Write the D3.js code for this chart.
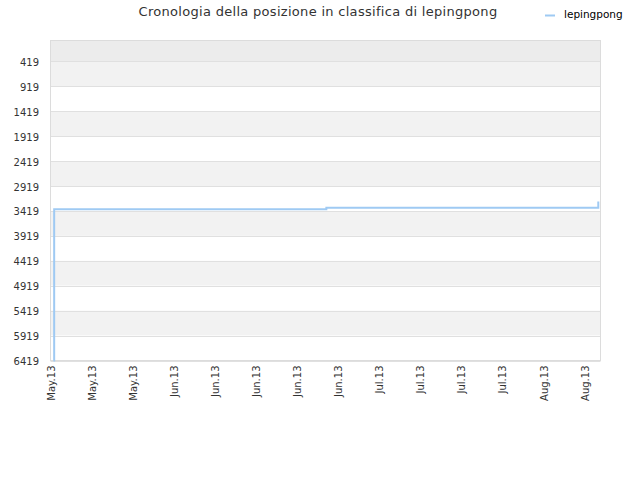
<!DOCTYPE html>
<html>
<head>
<meta charset="utf-8">
<script src="https://cdn.jsdelivr.net/npm/d3@7"></script>
<style>
  body { margin: 0; background: #fff; }
  text { font-family: "DejaVu Sans", sans-serif; }
</style>
</head>
<body>
<div id="chart-area"></div>
<script>
// rank history of lepingpong (lower = better)
const dates = ["2013-05-12T12:00", "2013-05-12T15:00", "2013-06-28T00:00", "2013-08-13T08:00"];
const ranks = [6419, 3385, 3355, 3230];
const yTicks = [419, 919, 1419, 1919, 2419, 2919, 3419, 3919, 4419, 4919, 5419, 5919, 6419];
const xTicks = ["2013-05-12", "2013-05-19", "2013-05-26", "2013-06-02", "2013-06-09", "2013-06-16", "2013-06-23",
    "2013-06-30", "2013-07-07", "2013-07-14", "2013-07-21", "2013-07-28", "2013-08-04", "2013-08-11"];

const parse = d3.timeParse("%Y-%m-%dT%H:%M");
const parseDay = d3.timeParse("%Y-%m-%d");

const data = dates.map((d, i) => ({ date: parse(d), rank: ranks[i] }));

const plotLeft = 50.5, plotRight = 600.5, plotTop = 40.5, plotBottom = 360.5;

const svg = d3.select("#chart-area")
    .append("svg")
        .attr("width", 640)
        .attr("height", 480);

const x = d3.scaleTime()
    .domain([parseDay("2013-05-12"), parse("2013-08-13T17:00")])
    .range([plotLeft, plotRight]);

const y = d3.scaleLinear()
    .domain([0, 6419])
    .range([plotTop, plotBottom]);

// bands between gridlines
const bandEdges = [0].concat(yTicks);
svg.selectAll("rect.band")
    .data(d3.pairs(bandEdges))
    .enter()
    .append("rect")
        .attr("class", "band")
        .attr("x", plotLeft)
        .attr("y", (d) => y(d[0]))
        .attr("width", plotRight - plotLeft)
        .attr("height", (d) => y(d[1]) - y(d[0]))
        .attr("fill", (d, i) => {
            if (i === 0) return "#ececec";
            return i % 2 === 1 ? "#f2f2f2" : "#ffffff";
        });

// gridlines
svg.selectAll("line.grid")
    .data(yTicks)
    .enter()
    .append("line")
        .attr("class", "grid")
        .attr("x1", plotLeft)
        .attr("x2", plotRight)
        .attr("y1", (d) => Math.round(y(d)) + 0.5)
        .attr("y2", (d) => Math.round(y(d)) + 0.5)
        .attr("stroke", "#e0e0e0");

// frame
svg.append("rect")
    .attr("x", plotLeft)
    .attr("y", plotTop)
    .attr("width", plotRight - plotLeft)
    .attr("height", plotBottom - plotTop)
    .attr("fill", "none")
    .attr("stroke", "#dcdcdc");

// y axis labels
const yAxis = d3.axisLeft(y)
    .tickValues(yTicks)
    .tickFormat(d3.format("d"))
    .tickSize(0)
    .tickPadding(11);
const gy = svg.append("g")
    .attr("transform", `translate(${plotLeft - 0.5},0)`)
    .call(yAxis);
gy.select(".domain").remove();
gy.selectAll("text")
    .attr("font-size", 10)
    .attr("fill", "#333")
    .attr("font-family", "DejaVu Sans, sans-serif")
    .attr("dy", "0.4em");

// x axis labels
const xAxis = d3.axisBottom(x)
    .tickValues(xTicks.map(parseDay))
    .tickFormat(d3.timeFormat("%b.%y"))
    .tickSize(0);
const gx = svg.append("g")
    .attr("transform", `translate(0,${plotBottom + 5})`)
    .call(xAxis);
gx.select(".domain").remove();
gx.selectAll("text")
    .attr("font-size", 10)
    .attr("fill", "#333")
    .attr("font-family", "DejaVu Sans, sans-serif")
    .attr("text-anchor", "end")
    .attr("transform", "rotate(-90)")
    .attr("x", 0)
    .attr("y", 0)
    .attr("dx", "0")
    .attr("dy", "0.35em");

// rank line
const line = d3.line()
    .x((d) => x(d.date))
    .y((d) => y(d.rank))
    .curve(d3.curveStepAfter);

svg.append("path")
    .datum(data)
    .attr("d", line)
    .attr("fill", "none")
    .attr("stroke", "#9fcaf3")
    .attr("stroke-width", 2);

// title
svg.append("text")
    .attr("x", 318)
    .attr("y", 16)
    .attr("text-anchor", "middle")
    .attr("font-size", 13)
    .attr("fill", "#333")
    .attr("letter-spacing", "0.3px")
    .text("Cronologia della posizione in classifica di lepingpong");

// legend
svg.append("line")
    .attr("x1", 545)
    .attr("x2", 555)
    .attr("y1", 15.5)
    .attr("y2", 15.5)
    .attr("stroke", "#9fcaf3")
    .attr("stroke-width", 2);
svg.append("text")
    .attr("x", 564)
    .attr("y", 18)
    .attr("font-size", 10.5)
    .attr("fill", "#000")
    .text("lepingpong");
</script>
</body>
</html>
